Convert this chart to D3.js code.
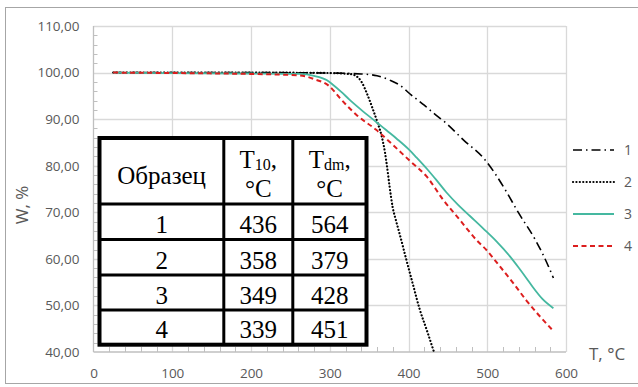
<!DOCTYPE html>
<html>
<head>
<meta charset="utf-8">
<script src="https://cdn.jsdelivr.net/npm/d3@7"></script>
<style>
  html, body { margin: 0; padding: 0; background: #fff; }
  svg { display: block; }
</style>
</head>
<body>
<svg id="chart" width="638" height="387"></svg>
<script>
// TGA curves: mass W (%) versus temperature T (°C) for four samples
const temps1 = [25, 100, 200, 300, 340, 360, 376, 389, 402, 420, 431, 448, 470, 497, 510, 524, 540, 560, 572, 584];
const mass1  = [100, 100, 100, 99.9, 99.7, 99.3, 98.4, 97.3, 95.4, 93, 91.4, 89.1, 85.5, 81.3, 78.3, 74.5, 69.8, 64.4, 60.5, 55.9];

const temps2 = [25, 100, 200, 300, 325, 332, 340, 347, 355, 361, 366, 370, 373, 376, 380, 384, 389, 397, 406, 414, 423, 432];
const mass2  = [100, 100, 100, 99.9, 99.7, 99.4, 98.1, 95.6, 92, 89.1, 86.3, 83, 79.5, 75.5, 71, 68.3, 65.2, 60, 54.3, 49.3, 44.8, 40.2];

const temps3 = [25, 100, 200, 262, 280, 296, 304, 315, 325, 340, 359, 372, 385, 401, 410, 423, 435, 448, 463, 478, 495, 512, 528, 540, 550, 558, 570, 584];
const mass3  = [100, 99.9, 99.8, 99.7, 99.3, 98.4, 97.4, 95.8, 94.2, 92, 89.4, 87.6, 85.8, 83.4, 81.8, 79.4, 77, 74.3, 71.6, 69.2, 66.5, 63.7, 60.7, 58.1, 55.8, 53.9, 51.4, 49.4];

const temps4 = [25, 100, 200, 262, 280, 300, 313, 334, 359, 380, 402, 423, 444, 465, 486, 499, 515, 533, 550, 565, 584];
const mass4  = [100, 99.9, 99.7, 99.4, 98.6, 97, 94.5, 90.9, 87.7, 84.5, 81, 77.7, 72.7, 68.4, 64.1, 61.9, 58.6, 54.8, 51, 48, 44.5];

const seriesNames = ["1", "2", "3", "4"];
const xTicks = [0, 100, 200, 300, 400, 500, 600];
const yTicks = [40, 50, 60, 70, 80, 90, 100, 110];

// Inset table: sample, T10 and Tdm
const tableSamples = ["1", "2", "3", "4"];
const tableT10 = [436, 358, 349, 339];
const tableTdm = [564, 379, 428, 451];

const svg = d3.select("#chart");
const W = 638, H = 387;

svg.append("rect").attr("width", W).attr("height", H).attr("fill", "#fff");
// chart frame
svg.append("rect")
  .attr("x", 5.5).attr("y", 7.5).attr("width", 640).attr("height", 376)
  .attr("fill", "none").attr("stroke", "#a6a6a6").attr("stroke-width", 1);

const x = d3.scaleLinear().domain([0, 600]).range([93.5, 566]);
const y = d3.scaleLinear().domain([40, 110]).range([352, 26]);

const gridColor = "#d9d9d9";
const axisColor = "#bfbfbf";
const textColor = "#595959";
const tickFont = "'Open Sans', sans-serif";

// gridlines
const grid = svg.append("g");
grid.selectAll(".gy").data(yTicks.filter(v => v > 40)).join("line")
  .attr("x1", x(0)).attr("x2", x(600))
  .attr("y1", d => Math.round(y(d)) + 0.5).attr("y2", d => Math.round(y(d)) + 0.5)
  .attr("stroke", gridColor).attr("stroke-width", 1.3);
grid.selectAll(".gx").data(xTicks.filter(v => v > 0)).join("line")
  .attr("x1", d => Math.round(x(d)) + 0.5).attr("x2", d => Math.round(x(d)) + 0.5)
  .attr("y1", y(110)).attr("y2", y(40))
  .attr("stroke", gridColor).attr("stroke-width", 1.3);

// minor ticks
const minorY = d3.range(40, 110, 2).filter(v => v % 10 !== 0);
grid.selectAll(".my").data(minorY).join("line")
  .attr("x1", x(0)).attr("x2", x(0) + 4)
  .attr("y1", d => Math.round(y(d)) + 0.5).attr("y2", d => Math.round(y(d)) + 0.5)
  .attr("stroke", axisColor).attr("stroke-width", 1);
const minorX = d3.range(0, 600, 20).filter(v => v % 100 !== 0);
grid.selectAll(".mx").data(minorX).join("line")
  .attr("x1", d => Math.round(x(d)) + 0.5).attr("x2", d => Math.round(x(d)) + 0.5)
  .attr("y1", y(40)).attr("y2", y(40) - 5)
  .attr("stroke", axisColor).attr("stroke-width", 1);

// axis lines
svg.append("line").attr("x1", x(0)).attr("x2", x(0)).attr("y1", y(110)).attr("y2", y(40))
  .attr("stroke", axisColor).attr("stroke-width", 1.3);
svg.append("line").attr("x1", x(0)).attr("x2", x(600)).attr("y1", y(40)).attr("y2", y(40))
  .attr("stroke", axisColor).attr("stroke-width", 1.3);

// axes (labels only)
const fmt = d => d.toFixed(2).replace(".", ",");
const yAxis = svg.append("g").attr("transform", `translate(${x(0)},0)`)
  .call(d3.axisLeft(y).tickValues(yTicks).tickSize(0).tickPadding(14).tickFormat(fmt));
const xAxis = svg.append("g").attr("transform", `translate(0,${y(40)})`)
  .call(d3.axisBottom(x).tickValues(xTicks).tickSize(0).tickPadding(16).tickFormat(d3.format("d")));
[yAxis, xAxis].forEach(g => {
  g.select(".domain").remove();
  g.selectAll("text").attr("fill", textColor).style("font-family", tickFont).style("font-size", "13.5px");
});

// axis titles
svg.append("text")
  .attr("transform", "translate(28,205) rotate(-90)")
  .attr("text-anchor", "middle")
  .attr("fill", textColor).style("font-family", tickFont).style("font-size", "17px")
  .text("W, %");
svg.append("text")
  .attr("x", 589).attr("y", 360)
  .attr("fill", textColor).style("font-family", tickFont).style("font-size", "17px")
  .text("T, °C");

// series
const series = [
  { t: temps1, w: mass1, color: "#000000", width: 1.6, dash: "9,4,1.5,4", cap: "butt" },
  { t: temps2, w: mass2, color: "#000000", width: 2.2, dash: "0.1,3.3", cap: "round" },
  { t: temps3, w: mass3, color: "#45b8a0", width: 1.8, dash: null, cap: "butt" },
  { t: temps4, w: mass4, color: "#dc1e1e", width: 2, dash: "5,3.5", cap: "butt" }
];

const line = d3.line()
  .x(d => x(d[0])).y(d => y(d[1]))
  .curve(d3.curveMonotoneX);

const lines = svg.append("g");
series.forEach(s => {
  lines.append("path")
    .datum(d3.zip(s.t, s.w))
    .attr("d", line)
    .attr("fill", "none")
    .attr("stroke", s.color)
    .attr("stroke-width", s.width)
    .attr("stroke-linecap", s.cap)
    .attr("stroke-dasharray", s.dash);
});

// legend
const legend = svg.append("g");
const legendY = d3.scaleLinear().domain([0, 3]).range([150, 246]);
series.forEach((s, i) => {
  legend.append("line")
    .attr("x1", 573).attr("x2", 614)
    .attr("y1", legendY(i)).attr("y2", legendY(i))
    .attr("stroke", s.color).attr("stroke-width", s.width)
    .attr("stroke-linecap", s.cap).attr("stroke-dasharray", s.dash);
  legend.append("text")
    .attr("x", 624).attr("y", legendY(i) + 5)
    .attr("fill", textColor).style("font-family", tickFont).style("font-size", "14px")
    .text(seriesNames[i]);
});

// inset table
const tbl = svg.append("g");
const serif = "'Liberation Serif', 'Times New Roman', serif";
const colEdges = [99.5, 223.8, 292.8, 366.5];
const rowEdges = [138, 204, 239.5, 275, 310, 344.7];

tbl.append("rect")
  .attr("x", colEdges[0]).attr("y", rowEdges[0])
  .attr("width", colEdges[3] - colEdges[0]).attr("height", rowEdges[5] - rowEdges[0])
  .attr("fill", "#fff").attr("stroke", "#000").attr("stroke-width", 4);
colEdges.slice(1, 3).forEach(cx => {
  tbl.append("line").attr("x1", cx).attr("x2", cx)
    .attr("y1", rowEdges[0]).attr("y2", rowEdges[5])
    .attr("stroke", "#000").attr("stroke-width", 3);
});
rowEdges.slice(1, 5).forEach(ry => {
  tbl.append("line").attr("x1", colEdges[0]).attr("x2", colEdges[3])
    .attr("y1", ry).attr("y2", ry)
    .attr("stroke", "#000").attr("stroke-width", 3);
});

const colMid = i => (colEdges[i] + colEdges[i + 1]) / 2;
const tText = (cx, cy) => tbl.append("text")
  .attr("x", cx).attr("y", cy)
  .attr("text-anchor", "middle")
  .attr("fill", "#000").style("font-family", serif).style("font-size", "25px");

tText(colMid(0), 184).text("Образец");
[["10", 1], ["dm", 2]].forEach(([sub, c]) => {
  const t = tText(colMid(c), 168);
  t.append("tspan").text("T");
  t.append("tspan").attr("dy", 2).style("font-size", "16px").text(sub);
  t.append("tspan").attr("dy", -2).text(",");
  tText(colMid(c), 197).text("°C");
});

tableSamples.forEach((s, i) => {
  const base = rowEdges[i + 2] - 6.5;
  tText(colMid(0), base).text(s);
  tText(colMid(1), base).text(tableT10[i]);
  tText(colMid(2), base).text(tableTdm[i]);
});
</script>
</body>
</html>
